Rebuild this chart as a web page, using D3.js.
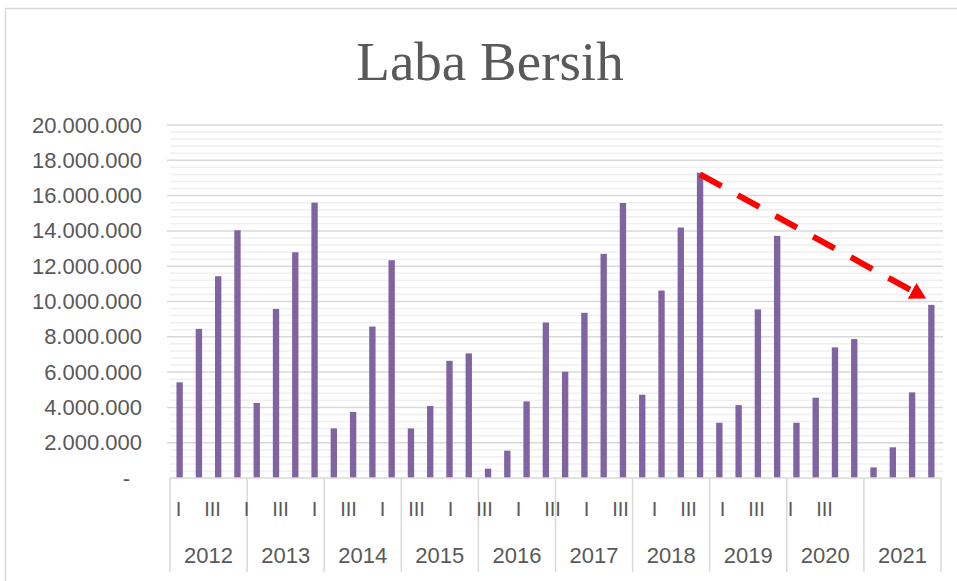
<!DOCTYPE html>
<html>
<head>
<meta charset="utf-8">
<title>Laba Bersih</title>
<script src="https://cdnjs.cloudflare.com/ajax/libs/d3/7.8.5/d3.min.js"></script>
<style>
	body { margin: 0; background: #fff; }
	svg { display: block; }
</style>
</head>
<body>
<svg class="chart"></svg>
<script>
const years = ['2012', '2013', '2014', '2015', '2016', '2017', '2018', '2019', '2020', '2021'];
const quarters = ['I', 'II', 'III', 'IV'];
// laba bersih per kuartal, 2012 I .. 2021 IV
const labaBersih = [
	5420000, 8450000, 11430000, 14040000,
	4250000, 9580000, 12790000, 15600000,
	2810000, 3740000, 8580000, 12340000,
	2810000, 4080000, 6640000, 7060000,
	530000, 1550000, 4340000, 8810000,
	6020000, 9360000, 12700000, 15580000,
	4720000, 10620000, 14190000, 17300000,
	3130000, 4130000, 9550000, 13720000,
	3130000, 4550000, 7400000, 7870000,
	600000, 1740000, 4850000, 9810000
];
const yTicks = [0, 2000000, 4000000, 6000000, 8000000, 10000000, 12000000, 14000000, 16000000, 18000000, 20000000];
const minorStep = 400000;
// red dashed trend arrow, start and end in chart terms
const trendArrow = [
	{ year: '2018', quarter: 'IV', value: 17200000 },
	{ year: '2021', quarter: 'III', value: 10600000 }
];

const svg = d3.select('.chart')
	.attr('width', 957)
	.attr('height', 581);

const width = +svg.attr('width'),
	height = +svg.attr('height');

const margin = { top: 125, right: 16, bottom: 103, left: 170 };
const innerWidth = width - margin.left - margin.right;
const innerHeight = height - margin.top - margin.bottom;
const textColor = '#595959';
const gridColor = '#d9d9d9';
const sansFont = '"Liberation Sans", Arial, sans-serif';

const data = [];
years.forEach((y, i) => {
	quarters.forEach((q, j) => {
		data.push({ key: y + '-' + q, year: y, quarter: q, value: labaBersih[i * 4 + j] });
	});
});

const locale = d3.formatLocale({ decimal: ',', thousands: '.', grouping: [3], currency: ['', ''] });
const yTickFormat = v => v === 0 ? '-' : locale.format(',')(v);

// chart frame (only top and left edges are inside the picture)
svg.append('path')
	.attr('d', `M5.5,${height}V8.5H${width}`)
	.attr('fill', 'none')
	.attr('stroke', gridColor)
	.attr('stroke-width', 1.5);

svg.append('text')
	.attr('x', 490)
	.attr('y', 80)
	.attr('text-anchor', 'middle')
	.attr('fill', textColor)
	.style('font-family', '"Liberation Serif", "Times New Roman", serif')
	.style('font-size', '55px')
	.text('Laba Bersih');

const xScale = d3.scaleBand()
	.domain(data.map(d => d.key))
	.range([0, innerWidth])
	.paddingInner(0.67)
	.paddingOuter(0.335);

const yearScale = d3.scaleBand()
	.domain(years)
	.range([0, innerWidth]);

// Excel squeezes the quarter labels into a narrower strip
const quarterLabelScale = d3.scaleBand()
	.domain(data.map(d => d.key))
	.range([0, 680]);

const yScale = d3.scaleLinear()
	.domain([0, 20000000])
	.range([innerHeight, 0]);

const g = svg.append('g')
	.attr('transform', `translate(${margin.left}, ${margin.top})`);

const minorTicks = d3.range(minorStep, 20000000, minorStep).filter(v => v % 2000000 !== 0);

g.selectAll('.minor').data(minorTicks)
	.enter().append('line')
		.attr('class', 'minor')
		.attr('x1', 0)
		.attr('x2', innerWidth + 2)
		.attr('y1', d => yScale(d))
		.attr('y2', d => yScale(d))
		.attr('stroke', '#efefef')
		.attr('stroke-width', 1.5);

g.selectAll('.major').data(yTicks.slice(1))
	.enter().append('line')
		.attr('class', 'major')
		.attr('x1', -3)
		.attr('x2', innerWidth + 2)
		.attr('y1', d => yScale(d))
		.attr('y2', d => yScale(d))
		.attr('stroke', gridColor)
		.attr('stroke-width', 1.5);

const yAxis = d3.axisLeft(yScale)
	.tickValues(yTicks)
	.tickFormat(yTickFormat)
	.tickSize(0)
	.tickPadding(28);

const yAxisG = g.append('g').call(yAxis)
	.attr('color', textColor)
	.style('font-family', sansFont)
	.style('font-size', '22px');
yAxisG.select('.domain').remove();
yAxisG.selectAll('text')
	.filter(d => d === 0)
	.attr('dx', -12);

g.selectAll('.bar').data(data)
	.enter().append('rect')
		.attr('class', 'bar')
		.attr('x', d => xScale(d.key))
		.attr('y', d => yScale(d.value))
		.attr('width', xScale.bandwidth())
		.attr('height', d => innerHeight - yScale(d.value))
		.attr('fill', '#8064a2');

// category axis
g.append('line')
	.attr('x1', 0)
	.attr('x2', innerWidth)
	.attr('y1', innerHeight)
	.attr('y2', innerHeight)
	.attr('stroke', gridColor)
	.attr('stroke-width', 1.5);

const bounds = years.map(y => yearScale(y)).concat([innerWidth]);
g.selectAll('.sep').data(bounds)
	.enter().append('line')
		.attr('class', 'sep')
		.attr('x1', d => d)
		.attr('x2', d => d)
		.attr('y1', innerHeight)
		.attr('y2', innerHeight + 94)
		.attr('stroke', gridColor)
		.attr('stroke-width', 1.5);

g.selectAll('.qlabel').data(data.filter((d, i) => i % 2 === 0 && quarterLabelScale(d.key) < 660))
	.enter().append('text')
		.attr('class', 'qlabel')
		.attr('x', d => quarterLabelScale(d.key) + quarterLabelScale.bandwidth() / 2)
		.attr('y', innerHeight + 38)
		.attr('text-anchor', 'middle')
		.attr('fill', textColor)
		.style('font-family', sansFont)
		.style('font-size', '20px')
		.text(d => d.quarter);

g.selectAll('.ylabel').data(years)
	.enter().append('text')
		.attr('class', 'ylabel')
		.attr('x', d => yearScale(d) + yearScale.bandwidth() / 2)
		.attr('y', innerHeight + 85)
		.attr('text-anchor', 'middle')
		.attr('fill', textColor)
		.style('font-family', sansFont)
		.style('font-size', '22px')
		.text(d => d);

// trend arrow
svg.append('defs').append('marker')
	.attr('id', 'arrowHead')
	.attr('markerUnits', 'userSpaceOnUse')
	.attr('viewBox', '0 -10 18 20')
	.attr('markerWidth', 18)
	.attr('markerHeight', 20)
	.attr('refX', 0)
	.attr('refY', 0)
	.attr('orient', 'auto')
	.append('path')
		.attr('d', 'M0,-9L16,0L0,9Z')
		.attr('fill', '#ff0000');

const arrowPoint = d => [
	xScale(d.year + '-' + d.quarter) + xScale.bandwidth() / 2,
	yScale(d.value)
];

g.append('path')
	.attr('d', d3.line()(trendArrow.map(arrowPoint)))
	.attr('fill', 'none')
	.attr('stroke', '#ff0000')
	.attr('stroke-width', 6)
	.attr('stroke-dasharray', '24.5,18.5')
	.attr('marker-end', 'url(#arrowHead)');
</script>
</body>
</html>
